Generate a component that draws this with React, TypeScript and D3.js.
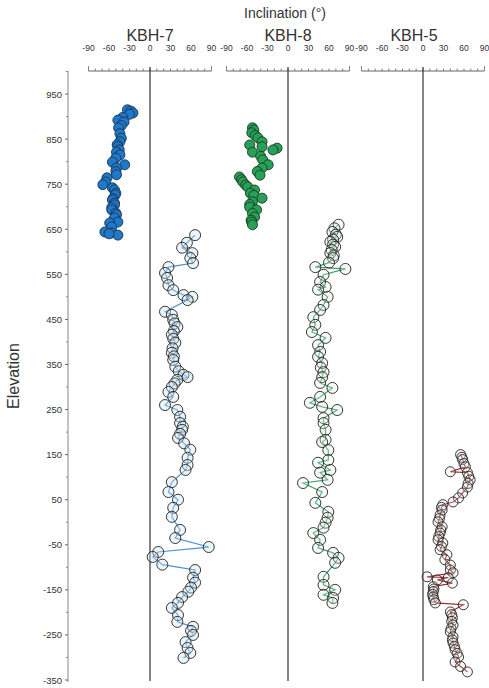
import React from "react";
import * as d3 from "d3";

// ---- data: [elevation, inclination] ----
const kbh7Upper: [number, number][] = [
  [915, -33], [912, -28], [908, -25], [905, -30], [898, -40], [892, -47], [888, -38], [880, -42],
  [875, -46], [862, -44], [852, -42], [844, -44], [838, -48], [833, -47], [826, -45], [821, -49],
  [815, -44], [808, -50], [799, -55], [793, -37], [786, -49], [778, -50], [771, -49], [764, -63],
  [755, -65], [749, -69], [742, -55], [737, -52], [730, -50], [726, -51], [718, -54], [715, -55],
  [708, -52], [704, -52], [698, -56], [693, -56], [686, -50], [682, -49], [675, -52], [666, -47],
  [664, -59], [655, -56], [644, -66], [642, -56], [637, -47], [640, -60],
];

const kbh7Lower: [number, number][] = [
  [637, 66], [620, 54], [609, 47], [597, 62], [586, 59], [575, 63], [566, 27], [553, 22],
  [542, 25], [526, 27], [515, 34], [504, 49], [500, 62], [493, 55], [467, 22], [460, 32],
  [449, 34], [441, 36], [433, 40], [424, 35], [416, 32], [407, 34], [398, 37], [386, 33],
  [376, 32], [368, 35], [360, 34], [345, 37], [335, 42], [327, 49], [322, 55], [316, 40],
  [308, 36], [300, 32], [289, 27], [278, 34], [260, 22], [249, 40], [234, 44], [220, 44],
  [212, 48], [205, 47], [196, 44], [187, 41], [175, 50], [161, 59], [143, 55], [127, 55],
  [116, 52], [89, 32], [67, 27], [50, 41], [32, 34], [12, 32], [-17, 44], [-35, 37],
  [-55, 86], [-66, 12], [-77, 4], [-94, 18], [-106, 66], [-123, 63], [-134, 66], [-145, 60],
  [-154, 56], [-166, 47], [-179, 41], [-190, 32], [-206, 41], [-221, 40], [-232, 63], [-241, 60],
  [-250, 63], [-266, 52], [-279, 55], [-290, 59], [-301, 49],
];

const kbh8Upper: [number, number][] = [
  [875, -52], [870, -50], [864, -53], [858, -48], [853, -44], [844, -38], [837, -56], [833, -38],
  [830, -16], [826, -22], [821, -52], [812, -40], [804, -37], [793, -29], [786, -38], [778, -45],
  [770, -41], [766, -71], [760, -68], [755, -66], [748, -62], [744, -59], [737, -49], [730, -55],
  [725, -50], [719, -38], [711, -52], [705, -56], [699, -56], [693, -46], [685, -52], [677, -49],
  [670, -54], [666, -53], [660, -52],
];

const kbh8Lower: [number, number][] = [
  [660, 74], [652, 68], [644, 65], [638, 70], [633, 72], [627, 66], [622, 62], [616, 66],
  [611, 69], [604, 64], [597, 62], [592, 67], [586, 66], [576, 60], [566, 40], [562, 84],
  [549, 52], [533, 47], [522, 55], [516, 44], [500, 58], [482, 52], [471, 47], [455, 37],
  [438, 40], [422, 35], [409, 55], [393, 44], [378, 47], [367, 44], [353, 50], [343, 48],
  [333, 52], [322, 50], [309, 47], [298, 65], [278, 47], [265, 32], [256, 50], [249, 72],
  [231, 52], [220, 52], [205, 55], [183, 55], [178, 50], [160, 59], [138, 59], [132, 44],
  [116, 62], [110, 47], [94, 58], [87, 22], [67, 50], [43, 40], [23, 59], [10, 58],
  [-1, 55], [-12, 52], [-24, 37], [-39, 47], [-57, 44], [-68, 66], [-79, 74], [-90, 69],
  [-121, 52], [-139, 52], [-150, 69], [-161, 52], [-168, 66], [-179, 65],
];

const kbh5: [number, number][] = [
  [150, 55], [144, 57], [139, 58], [130, 60], [123, 62], [112, 40], [110, 65], [102, 67],
  [94, 69], [86, 66], [78, 65], [65, 58], [54, 52], [45, 44], [39, 29], [33, 27],
  [27, 28], [16, 25], [8, 24], [1, 22], [-10, 28], [-17, 26], [-24, 25], [-32, 23],
  [-39, 22], [-46, 29], [-54, 27], [-61, 25], [-72, 35], [-83, 32], [-95, 40], [-106, 40],
  [-112, 44], [-123, 37], [-121, 6], [-128, 21], [-135, 43], [-143, 15], [-148, 16], [-154, 15],
  [-160, 14], [-166, 15], [-172, 16], [-179, 18], [-183, 59], [-199, 40], [-205, 42], [-212, 43],
  [-220, 42], [-228, 44], [-236, 41], [-243, 40], [-254, 44], [-261, 43], [-268, 44], [-276, 46],
  [-283, 47], [-291, 50], [-299, 52], [-310, 47], [-320, 55], [-332, 65],
];

const panelNames = ["KBH-7", "KBH-8", "KBH-5"];
const incTicks = [-90, -60, -30, 0, 30, 60, 90];
const elevTicks = [950, 850, 750, 650, 550, 450, 350, 250, 150, 50, -50, -150, -250, -350];

const W = 489;
const H = 688;
const FONT = "'Liberation Sans', Arial, sans-serif";

export default function App() {
  const y = d3.scaleLinear().domain([-350, 1000]).range([680, 71.5]);
  const centers = [150, 288, 423];
  const half = 61.5;
  const xs = centers.map((c) => d3.scaleLinear().domain([-90, 90]).range([c - half, c + half]));
  const axisY = 71;
  const leftX = 68;

  const minorTicks = d3.range(-90, 91, 10);
  const minorElev = d3.range(-300, 1001, 100);

  const line = (sx: d3.ScaleLinear<number, number>) =>
    d3
      .line<[number, number]>()
      .x((d) => sx(d[1]))
      .y((d) => y(d[0]));

  const sortDesc = (a: [number, number][]) => [...a].sort((p, q) => q[0] - p[0]);

  const circles = (
    data: [number, number][],
    sx: d3.ScaleLinear<number, number>,
    fill: string,
    stroke: string,
    r: number,
    sw: number
  ) =>
    data.map((d, i) => (
      <circle key={i} cx={sx(d[1])} cy={y(d[0])} r={r} fill={fill} stroke={stroke} strokeWidth={sw} />
    ));

  return (
    <svg width={W} height={H} style={{ position: "absolute", left: 0, top: 0, background: "#fff" }} fontFamily={FONT}>
      <rect width={W} height={H} fill="#fff" />
      {/* title */}
      <text x={285} y={18} textAnchor="middle" fontSize={14} fill="#333">
        Inclination (°)
      </text>
      {panelNames.map((n, i) => (
        <text key={n} x={[150, 288, 414][i]} y={41} textAnchor="middle" fontSize={16} fill="#333">
          {n}
        </text>
      ))}
      {/* top axes */}
      {xs.map((sx, i) => (
        <g key={i}>
          {incTicks.map((t) => (
            <text key={t} x={sx(t)} y={51} textAnchor="middle" fontSize={8.5} fill="#333">
              {t}
            </text>
          ))}
          <line x1={sx(-90)} x2={sx(90)} y1={axisY} y2={axisY} stroke="#666" strokeWidth={1} />
          {minorTicks.map((t) => (
            <line
              key={t}
              x1={sx(t)}
              x2={sx(t)}
              y1={axisY}
              y2={axisY - (Math.abs(t) === 90 ? 5 : 2.5)}
              stroke="#666"
              strokeWidth={0.8}
            />
          ))}
          <line x1={sx(0)} x2={sx(0)} y1={axisY - 4} y2={681} stroke="#333" strokeWidth={1.2} />
        </g>
      ))}
      {/* left axis */}
      <line x1={leftX} x2={leftX} y1={71} y2={682} stroke="#888" strokeWidth={1} />
      {elevTicks.map((t) => (
        <g key={t}>
          <line x1={leftX - 3} x2={leftX} y1={y(t)} y2={y(t)} stroke="#666" />
          <text x={62} y={y(t) + 3.5} textAnchor="end" fontSize={9.5} fill="#333">
            {t}
          </text>
        </g>
      ))}
      {minorElev.map((t) => (
        <line key={t} x1={leftX - 2} x2={leftX} y1={y(t)} y2={y(t)} stroke="#888" />
      ))}
      <text
        transform={`translate(19,376) rotate(-90)`}
        textAnchor="middle"
        fontSize={16}
        fill="#333"
      >
        Elevation
      </text>

      {/* KBH-7 */}
      <path d={line(xs[0])(sortDesc(kbh7Lower)) || ""} fill="none" stroke="#4a8fd0" strokeWidth={1.2} />
      {circles(kbh7Lower, xs[0], "rgba(200,225,240,0.35)", "#222", 5.5, 0.9)}
      {circles(kbh7Upper, xs[0], "#1f78c8", "#1a3350", 5, 0.9)}

      {/* KBH-8 */}
      <path d={line(xs[1])(sortDesc(kbh8Lower)) || ""} fill="none" stroke="#3aa070" strokeWidth={1.2} />
      {circles(kbh8Lower, xs[1], "rgba(220,240,225,0.25)", "#222", 5.5, 0.9)}
      {circles(kbh8Upper, xs[1], "#28a058", "#173a22", 5, 0.9)}

      {/* KBH-5 */}
      <path d={line(xs[2])(sortDesc(kbh5)) || ""} fill="none" stroke="#a02828" strokeWidth={1.2} />
      {circles(kbh5, xs[2], "rgba(240,225,225,0.2)", "#222", 5, 0.9)}
    </svg>
  );
}
